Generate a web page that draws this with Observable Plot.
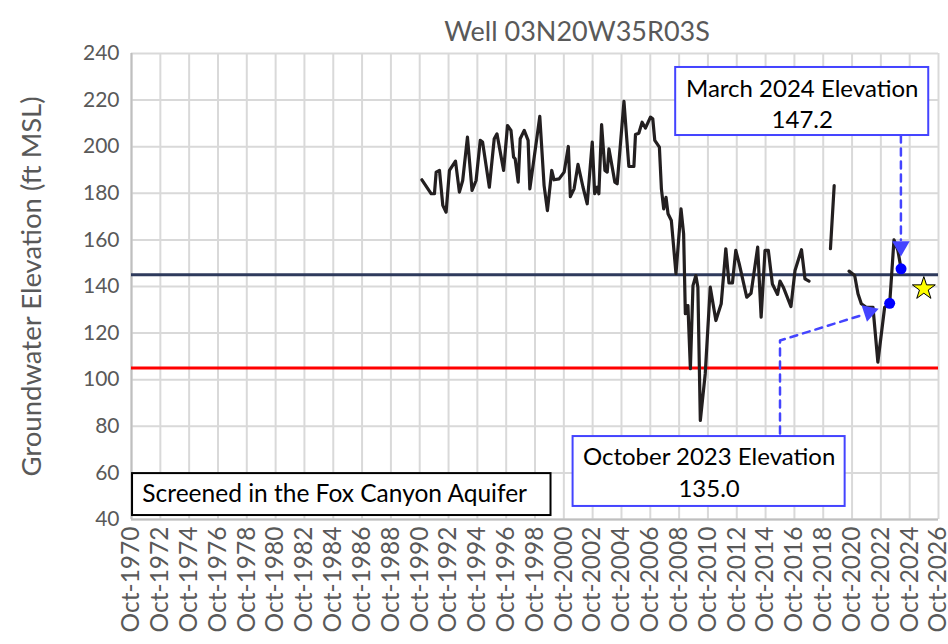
<!DOCTYPE html>
<html><head><meta charset="utf-8">
<script src="https://cdn.jsdelivr.net/npm/d3@7"></script>
<script src="https://cdn.jsdelivr.net/npm/@observablehq/plot@0.6"></script>
<style>body{margin:0;background:#fff}</style>
</head><body><div id="chart"></div>
<script>
const title = "Well 03N20W35R03S";
const yLabel = "Groundwater Elevation (ft MSL)";
const yTicks = [40, 60, 80, 100, 120, 140, 160, 180, 200, 220, 240];
const xTickYears = [1970,1972,1974,1976,1978,1980,1982,1984,1986,1988,1990,1992,1994,1996,1998,2000,2002,2004,2006,2008,2010,2012,2014,2016,2018,2020,2022,2024,2026];

// Observed groundwater elevations (decimal year, ft MSL, record segment)
const obsYear = [1990.90,1991.55,1991.77,1991.89,1992.12,1992.35,1992.58,1992.81,1993.23,1993.50,1993.73,1994.06,1994.38,1994.66,1994.95,1995.11,1995.58,1995.92,1996.11,1996.57,1996.84,1997.08,1997.26,1997.37,1997.58,1997.72,1998.00,1998.27,1998.39,1999.08,1999.38,1999.61,1999.91,2000.07,2000.42,2000.77,2001.06,2001.20,2001.46,2001.73,2002.08,2002.37,2002.72,2002.89,2003.07,2003.18,2003.37,2003.60,2003.76,2003.88,2004.29,2004.45,2004.92,2005.26,2005.61,2005.72,2005.95,2006.18,2006.41,2006.76,2006.92,2007.06,2007.38,2007.52,2007.68,2007.84,2007.98,2008.21,2008.53,2008.88,2009.06,2009.18,2009.36,2009.53,2009.71,2009.91,2010.05,2010.22,2010.56,2010.91,2011.30,2011.67,2011.99,2012.21,2012.45,2012.68,2012.92,2013.44,2013.74,2014.20,2014.44,2014.71,2014.94,2015.22,2015.58,2015.75,2015.98,2016.51,2016.79,2017.24,2017.48,2017.76,
  2019.25,2019.51,
  2020.54,2020.93,2021.16,2021.39,2021.73,2022.20,2022.54,2023.01,2023.36,2023.66,2023.93,2024.15];
const obsElev = [185.8,179.8,179.8,189.1,189.8,174.8,171.9,189.8,193.8,180.5,185.5,204.1,181.2,185.5,202.7,202.0,182.6,203.4,205.5,189.8,209.1,207.0,195.5,194.8,184.8,203.4,207.0,202.7,181.9,213.0,183.3,172.6,189.8,185.8,186.2,189.1,200.1,178.6,181.9,192.4,182.6,175.5,202.0,179.8,182.6,179.8,209.5,189.8,189.1,199.1,184.8,184.1,219.5,191.5,191.5,205.2,205.8,210.5,208.0,212.7,212.0,202.7,199.8,181.9,173.3,178.3,171.2,168.3,145.5,173.3,162.6,128.3,131.8,104.7,140.4,144.7,139.7,82.5,102.5,139.7,125.4,132.6,156.2,141.5,141.5,155.5,149.7,135.4,137.1,156.9,126.8,155.5,155.5,141.1,136.6,142.3,139.7,131.4,146.9,155.8,143.3,142.3,
  156.2,183.3,
  146.6,144.7,136.9,132.6,131.1,131.1,107.5,131.1,132.6,160.0,155.5,147.6];
const obsSeg = obsYear.map((y, i) => i < 102 ? 1 : i < 104 ? 2 : 3);

const thresholds = [145, 105];
const thresholdColors = ["#2e3a5c", "#ff0000"];

const highlightYear = [2023.36, 2024.15];
const highlightElev = [132.8, 147.6];
const starYear = [2025.73];
const starElev = [139.1];

// Annotations
const boxLabels = ["March 2024 Elevation\n147.2", "October 2023 Elevation\n135.0"];
const boxX1 = [2008.51, 2001.39];
const boxX2 = [2026.07, 2020.27];
const boxY1 = [234.0, 75.6];
const boxY2 = [204.8, 45.6];
const boxTextX = [2017.29, 2010.83];
const boxTextY = [218.8, 60.8];
const noteText = "Screened in the Fox Canyon Aquifer";

const toDate = y => { const yr = Math.floor(y); const s = Date.UTC(yr,0,1), e = Date.UTC(yr+1,0,1); return new Date(s + (y-yr)*(e-s)); };
const tickDates = xTickYears.map(y => new Date(Date.UTC(y, 9, 1)));
const rows = obsYear.map((y,i) => ({date: toDate(y), elev: obsElev[i], seg: obsSeg[i]}));
const highlights = highlightYear.map((y,i) => ({date: toDate(y), elev: highlightElev[i]}));
const stars = starYear.map((y,i) => ({date: toDate(y), elev: starElev[i]}));
const boxes = boxLabels.map((t,i) => ({x1: toDate(boxX1[i]), x2: toDate(boxX2[i]), y1: boxY1[i], y2: boxY2[i], tx: toDate(boxTextX[i]), ty: boxTextY[i], text: t}));
const arrow1 = [{date: toDate(2024.14), elev: 204.8}, {date: toDate(2024.14), elev: 160}];
const arrow2 = [{date: toDate(2015.75), elev: 76.9}, {date: toDate(2015.75), elev: 116.8}, {date: toDate(2021.58), elev: 128.0}];
const heads = [{date: toDate(2024.14), elev: 157.2, rot: 180}, {date: toDate(2021.93), elev: 129.1, rot: 72}];

const font = "Lato, 'Open Sans', sans-serif";
const blue = "#4444ff";
const chart = Plot.plot({
  width: 948, height: 644,
  marginLeft: 131, marginRight: 10, marginTop: 53, marginBottom: 125,
  style: {fontFamily: font, background: "#fff", color: "#595959", overflow: "visible"},
  x: {type: "utc", domain: [tickDates[0], tickDates[tickDates.length-1]]},
  y: {domain: [40, 240]},
  marks: [
    Plot.gridX(tickDates, {stroke: "#d9d9d9", strokeOpacity: 1, strokeWidth: 2}),
    Plot.gridY(yTicks, {stroke: "#d9d9d9", strokeOpacity: 1, strokeWidth: 2}),
    Plot.ruleY([40], {stroke: "#bfbfbf", strokeWidth: 2}),
    Plot.ruleX([tickDates[0]], {stroke: "#bfbfbf", strokeWidth: 2}),
    Plot.axisY(yTicks, {tickSize: 0, tickPadding: 12, fontSize: 21, fill: "#595959", label: null}),
    Plot.axisX(tickDates, {tickSize: 0, tickPadding: 7, tickRotate: -90, tickFormat: d3.utcFormat("%b-%Y"), fontSize: 24.5, fill: "#595959", label: null}),
    Plot.ruleY(thresholds, {stroke: (d,i) => thresholdColors[i], strokeWidth: 3}),
    Plot.line(rows, {x: "date", y: "elev", z: "seg", stroke: "#231f20", strokeWidth: 3.2}),
    Plot.line(arrow1, {x: "date", y: "elev", stroke: blue, strokeWidth: 2.5, strokeDasharray: "7,6"}),
    Plot.line(arrow2, {x: "date", y: "elev", stroke: blue, strokeWidth: 2.5, strokeDasharray: "7,6"}),
    Plot.dot(heads, {x: "date", y: "elev", symbol: "triangle", r: 6.5, fill: blue, rotate: "rot"}),
    Plot.dot(highlights, {x: "date", y: "elev", r: 5.5, fill: "#0000ff"}),
    Plot.dot(stars, {x: "date", y: "elev", symbol: "star", r: 7.2, fill: "#ffff00", stroke: "#000", strokeWidth: 1}),
    Plot.rect(boxes, {x1: "x1", x2: "x2", y1: "y1", y2: "y2", fill: "#fff", stroke: blue, strokeWidth: 2}),
    Plot.text(boxes, {x: "tx", y: "ty", text: "text", fontSize: 24, fill: "#000", lineHeight: 1.3}),
    Plot.rect([{x1: toDate(1970.82), x2: toDate(1999.86), y1: 59.7, y2: 41.7}], {x1: "x1", x2: "x2", y1: "y1", y2: "y2", fill: "#fff", stroke: "#000", strokeWidth: 2}),
    Plot.text([noteText], {x: toDate(1971.5), y: 50.7, textAnchor: "start", fontSize: 24.5, fill: "#000"}),
    Plot.text([title], {frameAnchor: "top", dy: -32, dx: 42, fontSize: 27, fill: "#595959"}),
    Plot.text([yLabel], {frameAnchor: "left", textAnchor: "middle", dx: -99, rotate: -90, fontSize: 27.5, fill: "#595959"})
  ]
});
document.getElementById("chart").append(chart);
</script>
</body></html>
